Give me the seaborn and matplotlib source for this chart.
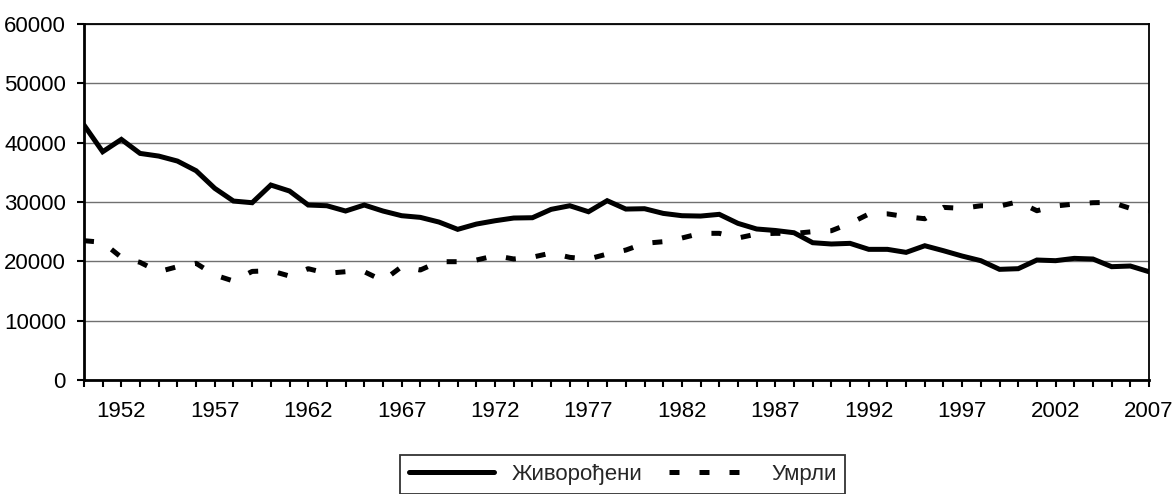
import pandas as pd
import matplotlib
matplotlib.use('Agg')
import matplotlib.pyplot as plt
import seaborn as sns

years = list(range(1950, 2008))

# Живорођени (live births)
births = [42970, 38470, 40550, 38190, 37740, 36900, 35270, 32300, 30160, 29880,
          32860, 31850, 29490, 29370, 28480, 29490, 28480, 27690, 27410, 26620,
          25390, 26280, 26840, 27300, 27350, 28760, 29370, 28360, 30220, 28810,
          28870, 28080, 27690, 27630, 27920, 26400, 25450, 25200, 24820, 23140,
          22920, 23030, 22020, 22020, 21510, 22630, 21790, 20890, 20110, 18650,
          18760, 20220, 20110, 20500, 20390, 19100, 19210, 18250]

# Умрли (deaths)
deaths = [23480, 23200, 20670, 19830, 18250, 19100, 19660, 17690, 16680, 18300,
          18420, 17520, 18760, 17980, 18250, 18250, 16740, 19100, 18540, 19940,
          19940, 20220, 20950, 20400, 20700, 21400, 20670, 20390, 21230, 21900,
          23030, 23310, 23930, 24720, 24720, 23930, 24600, 24720, 24700, 25000,
          25160, 26400, 27970, 28000, 27520, 27180, 29090, 28930, 29370, 29300,
          30050, 28530, 29320, 29660, 29880, 29940, 28930, 28500]

labels = ['Живорођени', 'Умрли']

df = pd.DataFrame({'year': years * 2,
                   'value': births + deaths,
                   'series': [labels[0]] * len(years) + [labels[1]] * len(years)})

sns.set_style('white')
plt.rcParams['font.family'] = ['Liberation Sans', 'DejaVu Sans']

fig = plt.figure(figsize=(11.75, 4.94), dpi=100)
ax = fig.add_axes([84 / 1175, 114 / 494, 1065 / 1175, 356 / 494])

sns.lineplot(data=df, x='year', y='value', hue='series', style='series',
             palette=['black', 'black'], dashes={labels[0]: '', labels[1]: (2.0, 4.0)},
             linewidth=3.6, ax=ax, legend=False)
for ln in ax.lines:
    ln.set_dash_capstyle('butt')
    ln.set_solid_joinstyle('miter')

ax.set_xlim(1950, 2007)
ax.set_ylim(0, 60000)
ax.set_yticks(range(0, 60001, 10000))
ax.set_xticks(years)
ax.set_xticklabels([str(y) if (y - 1952) % 5 == 0 else '' for y in years])
ax.set_xlabel('')
ax.set_ylabel('')

ax.yaxis.grid(True, color='#707070', linewidth=1.0)
ax.set_axisbelow(True)
for side in ['left', 'bottom']:
    ax.spines[side].set_linewidth(2.0)
    ax.spines[side].set_color('black')
for side in ['top', 'right']:
    ax.spines[side].set_linewidth(1.3)
    ax.spines[side].set_color('black')
    ax.spines[side].set_visible(True)

ax.tick_params(axis='both', which='major', labelsize=16, colors='black',
               direction='out', length=5, width=1.5)
ax.tick_params(axis='x', pad=10, bottom=True)
ax.tick_params(axis='y', pad=8, left=True)

leg = fig.legend(ax.lines[:2], labels, loc='center', bbox_to_anchor=(0.53, 0.04),
                 ncol=2, fontsize=16, frameon=True, fancybox=False,
                 handlelength=3.8, handletextpad=0.8, columnspacing=1.2,
                 borderpad=0.4, edgecolor='black')
leg.get_frame().set_linewidth(1.3)

fig.savefig('out.png', dpi=100)
